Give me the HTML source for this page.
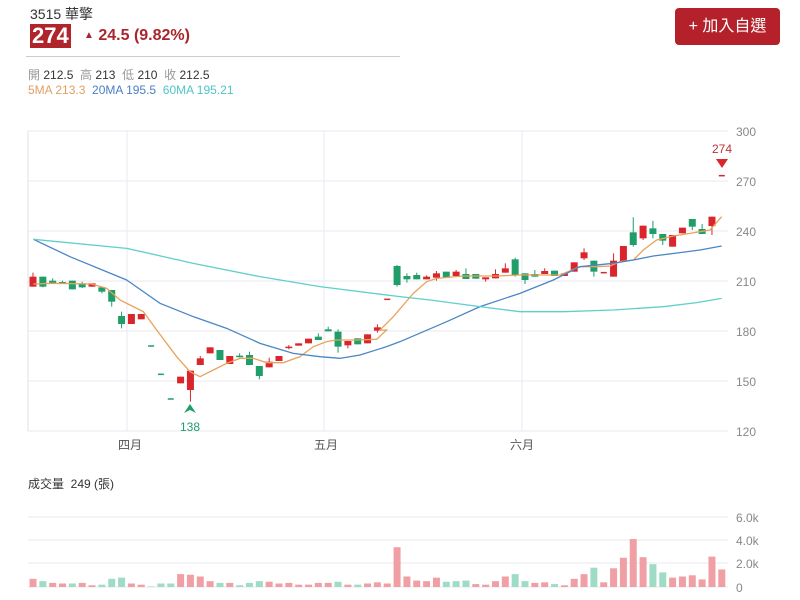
<!DOCTYPE html>
<html><head><meta charset="utf-8"><style>
body{margin:0;width:800px;height:600px;background:#fff;font-family:"Liberation Sans","Noto Sans CJK TC",sans-serif;overflow:hidden;position:relative}
.a{position:absolute;white-space:nowrap}
</style></head><body>
<div class="a" style="left:30px;top:4px;font-size:14px;color:#333">3515 華擎</div>
<div class="a" style="left:30px;top:24px;background:#b0252b;color:#fff;font-weight:bold;font-size:22px;line-height:24px;padding:0 2px">274</div>
<div class="a" style="left:84px;top:27px;color:#a8262b;font-weight:bold;font-size:16px"><span style="font-size:10px;vertical-align:2px">▲</span> 24.5 (9.82%)</div>
<div class="a" style="left:26px;top:56px;width:374px;height:1px;background:#ccc"></div>
<div class="a" style="left:675px;top:8px;width:105px;height:37px;background:#b4212a;border-radius:4px;color:#fff;font-size:16px;line-height:37px;text-align:center">+ 加入自選</div>
<div class="a" style="left:28px;top:66px;font-size:12px;color:#333"><span style="color:#999">開</span> 212.5 &nbsp;<span style="color:#999">高</span> 213 &nbsp;<span style="color:#999">低</span> 210 &nbsp;<span style="color:#999">收</span> 212.5</div>
<div class="a" style="left:28px;top:83px;font-size:12px"><span style="color:#e0a060">5MA 213.3</span> &nbsp;<span style="color:#4a80c0">20MA 195.5</span> &nbsp;<span style="color:#50c4c4">60MA 195.21</span></div>
<div class="a" style="left:28px;top:475px;font-size:12px;color:#333">成交量 &nbsp;249 (張)</div>
<svg id="s" class="a" style="left:0;top:0" width="800" height="600"></svg>
<script>
var s='';
function L(x1,y1,x2,y2,c,w){s+='<line x1="'+x1+'" y1="'+y1+'" x2="'+x2+'" y2="'+y2+'" stroke="'+c+'" stroke-width="'+(w||1)+'"/>';}
function T(x,y,t,c,a){s+='<text x="'+x+'" y="'+y+'" fill="'+c+'" font-size="12" text-anchor="'+(a||'start')+'" font-family="Liberation Sans,Noto Sans CJK TC,sans-serif">'+t+'</text>';}
var ax=[300,270,240,210,180,150,120];
ax.forEach(function(v,i){var y=131+i*50;L(28,y,728,y,'#e8e8f0');T(736,y+5,v,'#888');});
[127,324,522].forEach(function(x){L(x,131,x,431,'#e8e8f0');});
L(28,131,28,431,'#e0e0e8');
T(130,449,'四月','#555','middle');T(326,449,'五月','#555','middle');T(522,449,'六月','#555','middle');
[[517,'6.0k'],[540,'4.0k'],[563,'2.0k'],[587,'0']].forEach(function(p){L(28,p[0],728,p[0],'#e8e8f0');T(736,p[0]+5,p[1],'#888');});
var c2=[['r',140,170,128,170],['g',140,170,140,172],['g',152,162,145,162],['g',156,160,152,160],['g',152,178,152,178],['g',160,172,155,174],['r',160,170,160,170],['g',172,185,170,190],['g',180,215,180,230],['g',258,282,245,295],['r',252,282,252,282],['r',252,268,252,268],['d',348],['d',433],['d',507],['r',440,460,440,460],['r',422,480,422,515],['r',385,405,378,405],['r',352,370,352,370],['g',360,390,360,390],['r',378,402,378,402],['g',377,380,370,382],['g',375,405,365,405],['g',408,438,408,448],['r',395,412,383,412],['r',378,393,378,393],['r',350,354,345,358],['r',340,347,340,347],['r',326,340,326,340],['g',320,330,310,330],['g',298,304,290,304],['g',305,350,298,368],['r',333,346,333,355],['g',325,343,325,343],['r',313,340,313,340],['r',292,302,283,308],['d',208]];
var c3=[['g',408,465,405,470],['g',438,448,430,458],['g',435,448,428,448],['r',440,448,436,448],['r',430,443,423,452],['g',425,442,425,442],['r',425,438,420,438],['g',432,447,415,447],['g',432,446,432,446],['r',442,448,442,455],['r',432,445,418,445],['r',415,428,400,428],['g',388,435,383,440],['g',430,450,430,462],['g',432,440,420,440],['r',423,432,415,432],['g',422,438,422,438],['r',430,438,430,438],['r',397,425,397,425],['r',367,385,355,390],['g',392,425,392,440],['d',428],['r',392,440,370,440],['r',348,393,348,393],['g',307,345,262,350],['r',287,325,287,330],['g',295,312,272,325],['g',312,332,312,345],['r',315,350,315,350],['r',293,310,293,310],['g',267,290,267,300],['g',297,312,282,312],['r',260,288,260,315],['d',137]];
var all=c2.map(function(c){return [c,230];}).concat(c3.map(function(c){return [c,130];}));
var col={r:'#d9252b',g:'#1f9e6a',d:'#d9252b'};
all.forEach(function(p,i){var c=p[0],o=p[1],x=33+i*9.84;
 var cl=col[c[0]];
 if(c[0]=='d'){var y=o+c[1]/3;var cc=(i<38&&i!=36)?'#1f9e6a':'#d9252b';L(x-3,y,x+3,y,cc,1.5);return;}
 var t=o+c[1]/3,b=o+c[2]/3,h=o+c[3]/3,l=o+c[4]/3;
 L(x,h,x,l,cl,1);s+='<rect x="'+(x-3.5)+'" y="'+t+'" width="7" height="'+Math.max(1.5,b-t)+'" fill="'+cl+'"/>';
});
function P(pts2,pts3,c){var d=[];pts2.forEach(function(p){d.push((20+p[0]/3)+','+(230+p[1]/3));});pts3.forEach(function(p){d.push((380+p[0]/3)+','+(130+p[1]/3));});s+='<polyline points="'+d.join(' ')+'" fill="none" stroke="'+c+'" stroke-width="1.3"/>';}
P([[40,162],[100,160],[215,162],[260,175],[300,210],[370,245],[410,300],[470,380],[510,425],[540,440],[580,420],[620,400],[660,385],[700,385],[740,398],[790,398],[840,380],[880,350],[920,335],[950,330],[1010,330],[1070,328],[1100,300]],[[0,600],[40,560],[100,490],[140,455],[170,445],[250,438],[350,438],[420,435],[540,435],[600,410],[650,410],[690,408],[720,395],[760,390],[790,360],[830,330],[880,318],[930,310],[990,300],[1025,260]],'#e8a25c');
P([[40,28],[150,80],[320,150],[420,220],[520,260],[620,295],[720,340],[820,370],[900,380],[960,385],[1020,375],[1100,350],[1140,335]],[[200,575],[300,530],[420,490],[520,450],[600,410],[700,400],[760,390],[820,378],[900,368],[960,360],[1025,348]],'#4a86c5');
P([[40,28],[320,55],[520,100],[720,140],[900,170],[1140,200]],[[150,510],[300,530],[420,545],[550,545],[700,540],[850,530],[950,518],[1025,505]],'#5fcfca');
s+='<polygon points="190,404 184,413 190,410 196,413" fill="#1f9e6a"/>';T(190,431,'138','#1f9e6a','middle');
s+='<polygon points="716,159 728,159 722,168" fill="#d9252b"/>';T(722,153,'274','#c0303a','middle');
var v=[['r',.7],['g',.5],['r',.35],['r',.3],['g',.3],['r',.35],['r',.15],['g',.2],['g',.7],['g',.8],['r',.3],['r',.2],['g',.05],['g',.3],['g',.3],['r',1.1],['r',1.05],['r',.9],['r',.5],['g',.35],['r',.35],['g',.15],['g',.35],['g',.5],['r',.45],['r',.3],['r',.35],['r',.2],['r',.2],['r',.35],['r',.35],['g',.45],['r',.2],['g',.2],['r',.3],['r',.4],['r',.3],['r',3.4],['r',.9],['r',.55],['r',.5],['r',.8],['g',.45],['g',.5],['g',.55],['r',.25],['r',.2],['r',.5],['r',.9],['g',1.1],['g',.5],['r',.35],['r',.4],['g',.25],['r',.15],['r',.7],['r',1.1],['g',1.65],['r',.4],['r',1.6],['r',2.5],['r',4.1],['r',2.55],['g',1.95],['g',1.25],['r',.8],['r',.9],['r',1.0],['r',.65],['r',2.6],['r',1.5]];
v.forEach(function(p,i){var x=33+i*9.84-3.5,h=p[1]*11.7;s+='<rect x="'+x+'" y="'+(587-h)+'" width="7" height="'+h+'" fill="'+(p[0]=='r'?'#f0a0a4':'#9fdcc5')+'"/>';});
document.getElementById('s').innerHTML=s;
</script>
</body></html>
